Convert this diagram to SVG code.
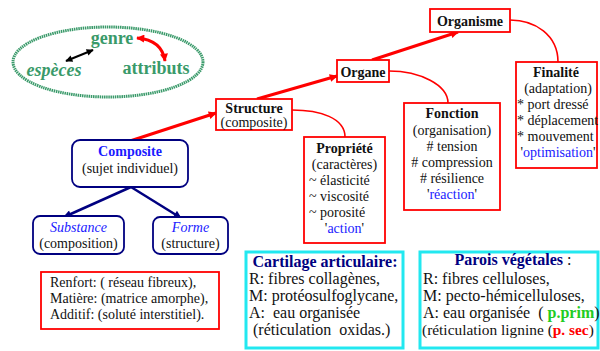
<svg xmlns="http://www.w3.org/2000/svg" width="600" height="351" viewBox="0 0 600 351" font-family="'Liberation Serif', serif">
<defs>
<style>
text{font-family:"Liberation Serif",serif;font-size:14px;fill:#111}
.b{font-weight:bold}
.c{text-anchor:middle}
.bl{fill:#1a1aff}
.it{font-style:italic}
.g{fill:#3a9a6a;font-weight:bold;font-size:18px}
.rbox{fill:#fff;stroke:#ff0000;stroke-width:1.8}
.nbox{fill:#fff;stroke:#000080;stroke-width:1.8}
.cbox{fill:#fff;stroke:#22e8f0;stroke-width:3}
.big{font-size:16px}
.db{fill:#000080}
.rarr{stroke:#ff0000;stroke-width:3;fill:none}
.rcur{stroke:#ff0000;stroke-width:1.6;fill:none}
.barr{stroke:#000080;stroke-width:2.5;fill:none}
</style>
<marker id="ar" viewBox="0 0 10 10" refX="9" refY="5" markerWidth="9" markerHeight="8" markerUnits="userSpaceOnUse" orient="auto"><path d="M0,0L10,5L0,10z" fill="#ff0000"/></marker>
<marker id="ars" viewBox="0 0 10 10" refX="9" refY="5" markerWidth="9" markerHeight="8" markerUnits="userSpaceOnUse" orient="auto-start-reverse"><path d="M0,0L10,5L0,10z" fill="#ff0000"/></marker>
<marker id="ab" viewBox="0 0 10 10" refX="9" refY="5" markerWidth="10" markerHeight="8" markerUnits="userSpaceOnUse" orient="auto"><path d="M0,0L10,5L0,10z" fill="#000080"/></marker>
<marker id="ak" viewBox="0 0 10 10" refX="9" refY="5" markerWidth="8" markerHeight="7" markerUnits="userSpaceOnUse" orient="auto-start-reverse"><path d="M0,0L10,5L0,10z" fill="#000"/></marker>
</defs>

<g id="ellipse">
<ellipse cx="108" cy="62" rx="95" ry="35" fill="none" stroke="#3a9a6a" stroke-width="3" stroke-dasharray="1.5 0.7"/>
<text x="112" y="44" class="g c">genre</text>
<text x="54" y="76" class="g c it">espèces</text>
<text x="156" y="74" class="g c">attributs</text>
</g>

<g id="connectors">
<line x1="66" y1="61" x2="93" y2="50" stroke="#000" stroke-width="2" marker-start="url(#ak)" marker-end="url(#ak)"/>
<path d="M137,38 Q162,40 165,61" stroke="#ff0000" stroke-width="3" fill="none" marker-start="url(#ars)" marker-end="url(#ars)"/>
<line x1="130" y1="141" x2="216" y2="113" class="rarr" marker-end="url(#ar)"/>
<line x1="257" y1="99" x2="337" y2="76" class="rarr" marker-end="url(#ar)"/>
<line x1="372" y1="60" x2="458" y2="32" class="rarr" marker-end="url(#ar)"/>
<path d="M292,110 C320,110 345,118 345,137" class="rcur"/>
<path d="M389,71 C420,71 448,85 448,103" class="rcur"/>
<path d="M510,20 C535,20 558,35 558,62" class="rcur"/>
<line x1="131" y1="187" x2="64" y2="217" class="barr" marker-end="url(#ab)"/>
<line x1="131" y1="187" x2="181" y2="218" class="barr" marker-end="url(#ab)"/>
</g>

<g id="organisme">
<rect x="430" y="9" width="80" height="23" class="rbox"/>
<text x="470" y="26" class="b c">Organisme</text>
</g>

<g id="organe">
<rect x="337" y="60" width="52" height="22" class="rbox"/>
<text x="363" y="77" class="b c">Organe</text>
</g>

<g id="structure">
<rect x="216" y="99" width="76" height="31" class="rbox"/>
<text x="254" y="113" class="b c">Structure</text>
<text x="254" y="127" class="c">(composite)</text>
</g>

<g id="propriete">
<rect x="304" y="137" width="81" height="106" class="rbox"/>
<text x="344.5" y="153" class="b c">Propriété</text>
<text x="344.5" y="169" class="c">(caractères)</text>
<text x="309" y="185">~ élasticité</text>
<text x="309" y="201">~ viscosité</text>
<text x="309" y="217">~ porosité</text>
<text x="344.5" y="233" class="c"><tspan>'</tspan><tspan class="bl">action</tspan><tspan>'</tspan></text>
</g>

<g id="fonction">
<rect x="404" y="103" width="96" height="107" class="rbox"/>
<text x="452" y="118" class="b c">Fonction</text>
<text x="452" y="135" class="c">(organisation)</text>
<text x="452" y="151" class="c">#  tension</text>
<text x="452" y="167" class="c"># compression</text>
<text x="452" y="183" class="c">  # résilience</text>
<text x="452" y="199" class="c"><tspan>'</tspan><tspan class="bl">réaction</tspan><tspan>'</tspan></text>
</g>

<g id="finalite">
<rect x="516" y="62" width="81" height="106" class="rbox"/>
<text x="556" y="77" class="b c">Finalité</text>
<text x="558" y="93" class="c">(adaptation)</text>
<text x="517" y="109">* port dressé</text>
<text x="517" y="125">* déplacement</text>
<text x="517" y="141">* mouvement</text>
<text x="558" y="157" class="c"><tspan>'</tspan><tspan class="bl">optimisation</tspan><tspan>'</tspan></text>
</g>

<g id="composite">
<rect x="72" y="140" width="116" height="47" rx="8" class="nbox"/>
<text x="130" y="156" class="b c bl">Composite</text>
<text x="130" y="173" class="c">(sujet individuel)</text>
</g>

<g id="substance">
<rect x="33" y="216" width="91" height="38" rx="7" class="nbox"/>
<text x="78.5" y="232" class="c it bl">Substance</text>
<text x="78.5" y="248" class="c">(composition)</text>
</g>

<g id="forme">
<rect x="153" y="217" width="75" height="37" rx="7" class="nbox"/>
<text x="190.5" y="232" class="c it bl">Forme</text>
<text x="190.5" y="248" class="c">(structure)</text>
</g>

<g id="renfort">
<rect x="41" y="272" width="178" height="57" class="rbox"/>
<text x="50" y="287">Renfort: ( réseau fibreux),</text>
<text x="50" y="303">Matière: (matrice amorphe),</text>
<text x="50" y="319">Additif: (soluté interstitiel).</text>
</g>

<g id="cartilage">
<rect x="246" y="252" width="157" height="96" class="cbox"/>
<text x="325" y="267" class="b c big db">Cartilage articulaire:</text>
<text x="249" y="284" class="big">R: fibres collagènes,</text>
<text x="249" y="301" class="big">M: protéosulfoglycane,</text>
<text x="249" y="318" class="big" xml:space="preserve">A:  eau organisée</text>
<text x="249" y="335" class="big" xml:space="preserve"> (réticulation  oxidas.)</text>
</g>

<g id="parois">
<rect x="420" y="252" width="178" height="96" class="cbox"/>
<text x="513" y="265" class="c big"><tspan class="b db">Parois végétales</tspan> :</text>
<text x="423" y="284" class="big">R: fibres celluloses,</text>
<text x="423" y="301" class="big">M: pecto-hémicelluloses,</text>
<text x="423" y="318" class="big" xml:space="preserve">A: eau organisée  ( <tspan class="b" style="fill:#22cc22">p.prim</tspan>)</text>
<text x="422" y="335" style="font-size:15.4px">(réticulation lignine (<tspan class="b" style="fill:#ff0000">p. sec</tspan>)</text>
</g>
</svg>
